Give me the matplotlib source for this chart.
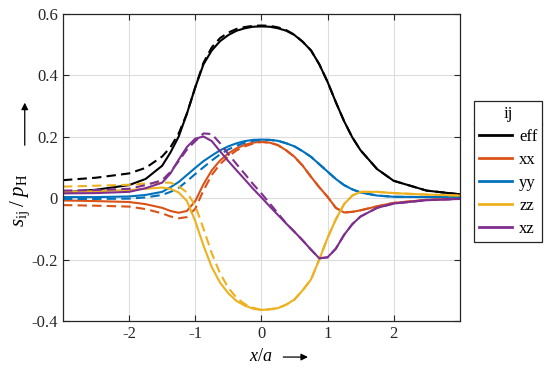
import numpy as np
import matplotlib
matplotlib.use("Agg")
import matplotlib.pyplot as plt
from matplotlib.lines import Line2D

plt.rcParams['font.family'] = ['Liberation Serif', 'DejaVu Serif']
plt.rcParams['mathtext.fontset'] = 'custom'
plt.rcParams['mathtext.rm'] = 'Liberation Serif'
plt.rcParams['mathtext.it'] = 'Liberation Serif:italic'
plt.rcParams['axes.unicode_minus'] = False

# positions x/a
x = [-3, -2.5, -2, -1.75, -1.5, -1.375, -1.25, -1.125, -1, -0.875, -0.75, -0.625,
     -0.5, -0.375, -0.25, -0.125, 0, 0.125, 0.25, 0.375, 0.5, 0.625, 0.75, 0.875,
     1, 1.125, 1.25, 1.375, 1.5, 1.75, 2, 2.5, 3]

# solid curves
eff = [0.018, 0.027, 0.042, 0.062, 0.105, 0.148, 0.2, 0.275, 0.36, 0.435, 0.48, 0.51,
       0.53, 0.544, 0.552, 0.557, 0.558, 0.557, 0.552, 0.544, 0.53, 0.508, 0.48, 0.435,
       0.378, 0.312, 0.25, 0.197, 0.155, 0.094, 0.056, 0.024, 0.012]
xx = [-0.008, -0.01, -0.013, -0.02, -0.032, -0.042, -0.048, -0.042, -0.01, 0.045, 0.09, 0.122,
      0.145, 0.162, 0.173, 0.18, 0.183, 0.18, 0.172, 0.155, 0.134, 0.105, 0.069, 0.035,
      0.004, -0.032, -0.047, -0.045, -0.04, -0.027, -0.016, -0.006, -0.002]
yy = [0.003, 0.003, 0.005, 0.01, 0.02, 0.035, 0.052, 0.075, 0.098, 0.12, 0.138, 0.155,
      0.168, 0.178, 0.185, 0.189, 0.19, 0.189, 0.186, 0.178, 0.168, 0.152, 0.134, 0.11,
      0.086, 0.062, 0.042, 0.028, 0.018, 0.008, 0.004, 0.003, 0.004]
zz = [0.02, 0.022, 0.026, 0.03, 0.034, 0.03, 0.018, -0.01, -0.075, -0.155, -0.225, -0.275,
      -0.31, -0.335, -0.35, -0.36, -0.364, -0.362, -0.358, -0.347, -0.33, -0.3, -0.265, -0.2,
      -0.13, -0.07, -0.02, 0.008, 0.02, 0.02, 0.016, 0.011, 0.008]
xz = [0.015, 0.016, 0.02, 0.032, 0.05, 0.08, 0.125, 0.166, 0.193, 0.2, 0.185, 0.152,
      0.12, 0.09, 0.06, 0.03, 0.002, -0.027, -0.055, -0.083, -0.11, -0.138, -0.168, -0.196,
      -0.193, -0.165, -0.12, -0.085, -0.06, -0.032, -0.018, -0.007, -0.003]

# dashed curves
eff_d = [0.058, 0.066, 0.08, 0.098, 0.135, 0.165, 0.21, 0.275, 0.36, 0.44, 0.49, 0.52,
         0.538, 0.55, 0.556, 0.56, 0.561, 0.56, 0.555, 0.546, 0.531, 0.508, 0.48, 0.435,
         0.378, 0.312, 0.25, 0.197, 0.155, 0.094, 0.056, 0.024, 0.012]
xx_d = [-0.023, -0.025, -0.028, -0.036, -0.05, -0.06, -0.066, -0.062, -0.035, 0.025, 0.075, 0.11,
        0.135, 0.155, 0.168, 0.177, 0.182, 0.18, 0.172, 0.155, 0.134, 0.105, 0.069, 0.035,
        0.004, -0.032, -0.047, -0.045, -0.04, -0.027, -0.016, -0.006, -0.002]
yy_d = [-0.003, -0.003, -0.002, 0.002, 0.01, 0.02, 0.033, 0.055, 0.078, 0.1, 0.122, 0.142,
        0.158, 0.17, 0.18, 0.186, 0.189, 0.189, 0.186, 0.178, 0.168, 0.152, 0.134, 0.11,
        0.086, 0.062, 0.042, 0.028, 0.018, 0.008, 0.004, 0.003, 0.004]
zz_d = [0.037, 0.04, 0.043, 0.047, 0.05, 0.05, 0.038, 0.018, -0.025, -0.1, -0.18, -0.245,
        -0.292, -0.325, -0.345, -0.357, -0.364, -0.362, -0.358, -0.347, -0.33, -0.3, -0.265, -0.2,
        -0.13, -0.07, -0.02, 0.008, 0.02, 0.02, 0.016, 0.011, 0.008]
xz_d = [0.024, 0.026, 0.03, 0.042, 0.058, 0.085, 0.12, 0.158, 0.185, 0.21, 0.208, 0.178,
        0.143, 0.11, 0.078, 0.045, 0.015, -0.017, -0.05, -0.082, -0.11, -0.138, -0.168, -0.196,
        -0.193, -0.165, -0.12, -0.085, -0.06, -0.032, -0.018, -0.007, -0.003]

labels = ["eff", "xx", "yy", "zz", "xz"]
colors = ["#000000", "#D95319", "#0072BD", "#EDB120", "#7E2F8E"]
xticks = [-2, -1, 0, 1, 2]
yticks = [-0.4, -0.2, 0, 0.2, 0.4, 0.6]
ytick_labels = ["-0.4", "-0.2", "0", "0.2", "0.4", "0.6"]

fig = plt.figure(figsize=(5.5, 3.7), dpi=100)
ax = fig.add_axes([0.1145, 0.1324, 0.7215, 0.8311])

solid = [eff, xx, yy, zz, xz]
dashed = [eff_d, xx_d, yy_d, zz_d, xz_d]
for s, d, c in zip(solid, dashed, colors):
    ax.plot(x, d, color=c, lw=1.5, dashes=(4.5, 2.5))
    ax.plot(x, s, color=c, lw=1.5)

ax.set_xlim(-3, 3)
ax.set_ylim(-0.4, 0.6)
ax.set_xticks(xticks)
ax.set_xticklabels([str(t) for t in xticks])
ax.set_yticks(yticks)
ax.set_yticklabels(ytick_labels)
ax.grid(True, color="#dddddd", lw=0.8)
ax.set_axisbelow(True)
ax.tick_params(direction="in", top=True, right=True, length=4, width=0.8,
               labelsize=12, colors="#262626")
for sp in ax.spines.values():
    sp.set_color("#262626")
    sp.set_linewidth(0.9)

# axis labels with arrows
fig.text(0.4745, 0.025, r"$x/a$", fontsize=13, ha="center", va="baseline")
ax.annotate("", xy=(0.565, 0.035), xytext=(0.51, 0.035), xycoords="figure fraction",
            textcoords="figure fraction",
            arrowprops=dict(arrowstyle="-|>", color="black", lw=0.9, mutation_scale=10))
fig.text(0.036, 0.46, r"$s_{\mathrm{ij}}\;/\;p_{\mathrm{H}}$", fontsize=15,
         rotation=90, ha="center", va="center")
ax.annotate("", xy=(0.045, 0.73), xytext=(0.045, 0.6), xycoords="figure fraction",
            textcoords="figure fraction",
            arrowprops=dict(arrowstyle="-|>", color="black", lw=0.9, mutation_scale=10))

handles = [Line2D([], [], color=c, lw=2) for c in colors]
leg = fig.legend(handles, labels, title="ij", loc="upper left",
                 bbox_to_anchor=(0.862, 0.727), fontsize=12, title_fontsize=12,
                 frameon=True, fancybox=False, framealpha=1, edgecolor="#262626",
                 handlelength=2.0, handletextpad=0.4, labelspacing=0.42,
                 borderpad=0.3, borderaxespad=0)
leg.get_frame().set_linewidth(0.9)

fig.canvas.draw()
fb = leg.get_frame().get_window_extent()
tb = leg.get_title().get_window_extent()
ysep = tb.y0 - 2
fig.add_artist(Line2D([fb.x0 / fig.bbox.width, fb.x1 / fig.bbox.width],
                      [ysep / fig.bbox.height, ysep / fig.bbox.height],
                      color="#262626", lw=0.9, transform=fig.transFigure))

fig.savefig("out.png", dpi=100)
